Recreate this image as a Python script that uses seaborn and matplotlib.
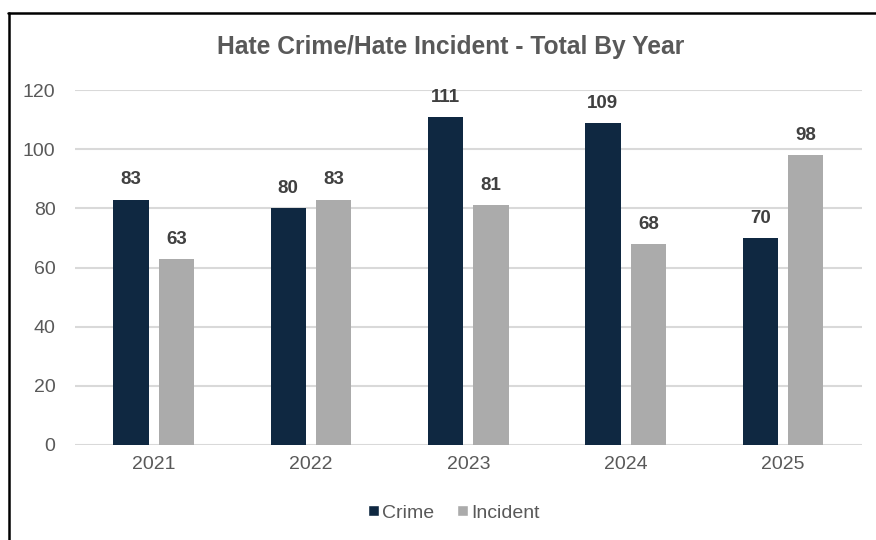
import pandas as pd
import numpy as np
import seaborn as sns
import matplotlib
matplotlib.use('Agg')
import matplotlib.pyplot as plt
from matplotlib.lines import Line2D
from matplotlib.patches import Patch

years = ["2021", "2022", "2023", "2024", "2025"]
crime = [83, 80, 111, 109, 70]
incident = [63, 83, 81, 68, 98]
series = ["Crime", "Incident"]
colors = ["#0F2841", "#ABABAB"]

df = pd.DataFrame({
    "Year": years * 2,
    "Count": crime + incident,
    "Type": [series[0]] * len(years) + [series[1]] * len(years),
})

sns.set_style("white")
plt.rcParams['font.family'] = ['Liberation Sans', 'DejaVu Sans']

fig = plt.figure(figsize=(8.76, 5.4), dpi=100)
ax = fig.add_axes([0.0856, 0.176, 0.898, 0.657])

sns.barplot(data=df, x="Year", y="Count", hue="Type", palette=colors,
            width=0.578, gap=0.22, ax=ax, legend=False, saturation=1,
            linewidth=0)

for c in ax.containers:
    ax.bar_label(c, padding=8, fontsize=13.5, fontweight='bold', color='#404040')

ax.set_ylim(0, 120)
ax.set_yticks(range(0, 121, 20))
ax.yaxis.grid(True, color='#D9D9D9', linewidth=1.5)
ax.set_axisbelow(True)
for s in ax.spines.values():
    s.set_visible(False)
ax.set_xlabel("")
ax.set_ylabel("")
ax.tick_params(axis='both', length=0, labelsize=14, labelcolor='#595959')
ax.tick_params(axis='y', pad=14)
ax.tick_params(axis='x', pad=8)

fig.text(0.514, 0.913, "Hate Crime/Hate Incident - Total By Year",
         ha='center', va='center', fontsize=17.7, fontweight='bold', color='#595959')

handles = [Patch(facecolor=colors[0]), Patch(facecolor=colors[1])]
fig.legend(handles, series, loc='center', bbox_to_anchor=(0.518, 0.05), ncol=2,
           frameon=False, fontsize=14, labelcolor='#595959',
           handlelength=0.55, handleheight=0.55, handletextpad=0.15, columnspacing=1.2)

# frame lines (top and left) like the screenshot
fig.add_artist(Line2D([8 / 876, 1], [1 - 13 / 540, 1 - 13 / 540], color='black', linewidth=1.8))
fig.add_artist(Line2D([9 / 876, 9 / 876], [0, 1 - 13 / 540], color='black', linewidth=1.8))

fig.savefig("out.png", dpi=100)
